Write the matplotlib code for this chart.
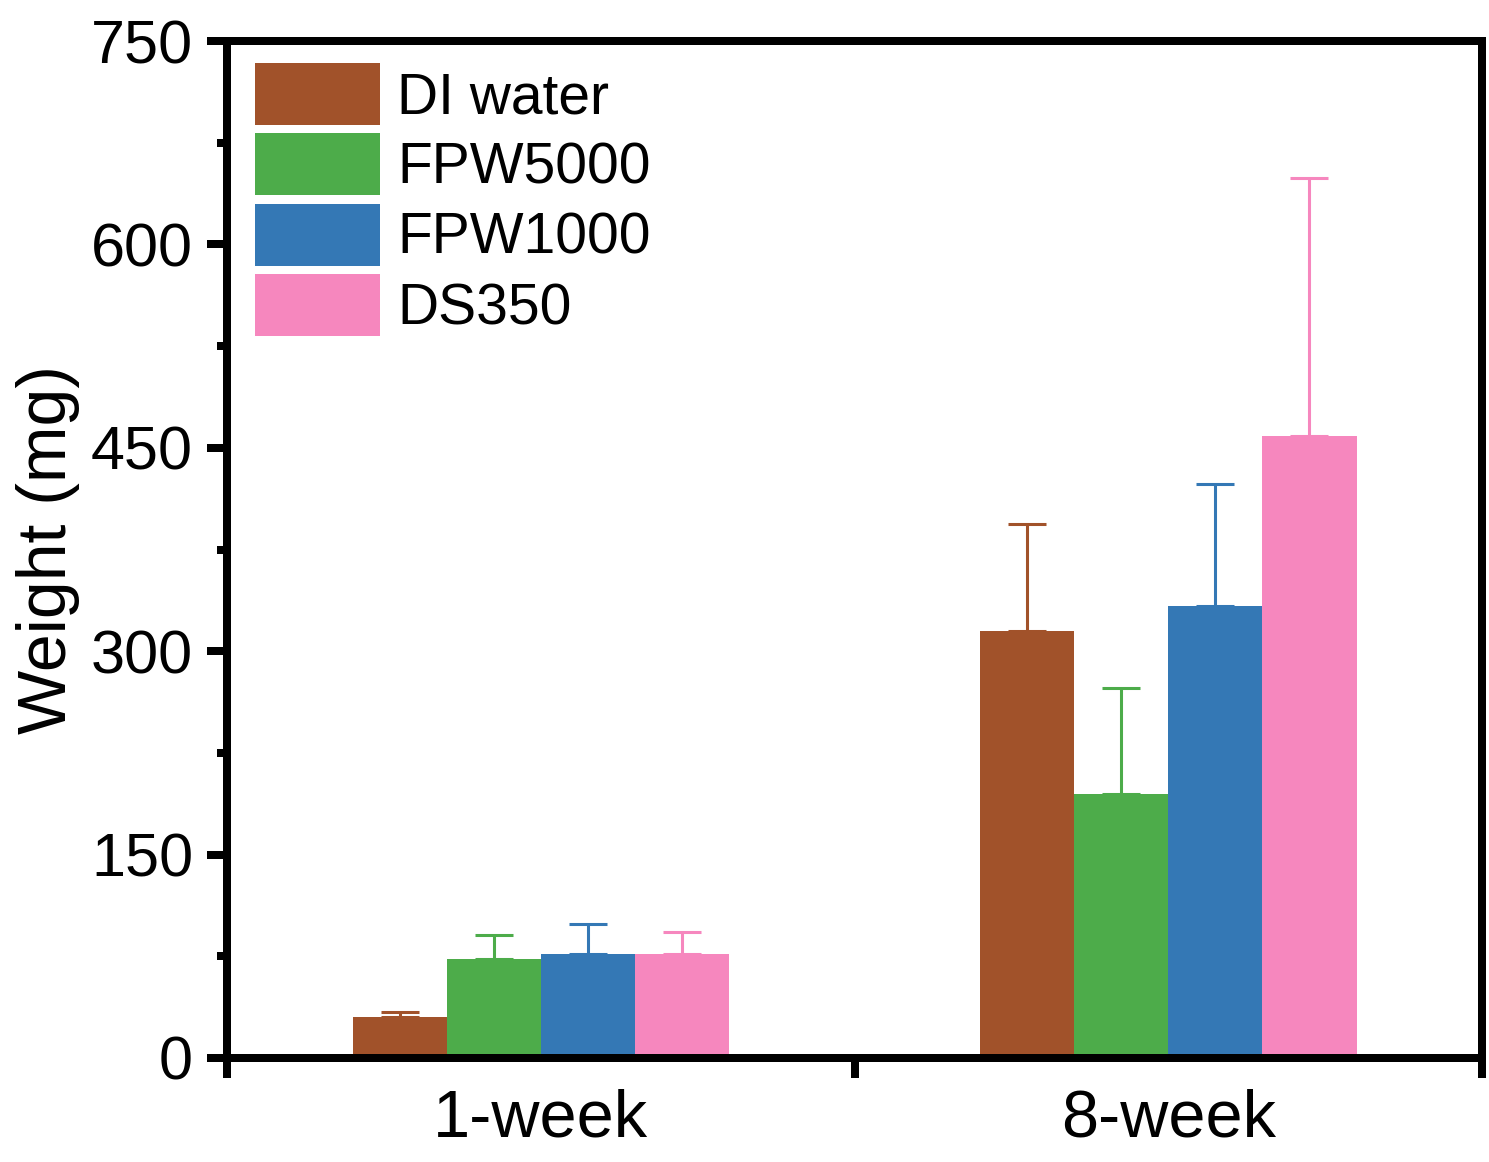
import matplotlib
matplotlib.use("Agg")
import matplotlib.pyplot as plt
import numpy as np

plt.rcParams['font.family'] = ['Liberation Sans', 'DejaVu Sans']

categories = ["1-week", "8-week"]
series = ["DI water", "FPW5000", "FPW1000", "DS350"]
colors = ["#A1522A", "#4DAC4A", "#3478B5", "#F687BE"]
values = {
    "DI water": [30, 315],
    "FPW5000": [73, 195],
    "FPW1000": [77, 333],
    "DS350": [77, 459],
}
errors = {
    "DI water": [3.7, 79],
    "FPW5000": [18, 78],
    "FPW1000": [21.5, 90],
    "DS350": [16, 190],
}
yticks = [0, 150, 300, 450, 600, 750]

dpi = 100
fig = plt.figure(figsize=(14.89, 11.62), dpi=dpi)
ax = fig.add_axes([227/1489, 1-1058/1162, (1482-227)/1489, (1058-41)/1162])

x = np.arange(1, len(categories) + 1)
w = 0.15
for i, (s, c) in enumerate(zip(series, colors)):
    pos = x + (i - 1.5) * w
    v = values[s]
    e = errors[s]
    ax.bar(pos, v, width=w, color=c, label=s,
           yerr=[np.zeros(len(e)), e], capsize=14,
           error_kw=dict(ecolor=c, elinewidth=2.2, capthick=2.2), zorder=2)

ax.set_xlim(0.5, 2.5)
ax.set_ylim(0, 750)

lw = 5.76
for sp in ax.spines.values():
    sp.set_linewidth(lw)

ax.set_yticks(yticks)
ax.set_yticks(np.arange(75, 750, 150), minor=True)
ax.tick_params(axis='y', which='major', direction='out', length=14.4, width=lw,
               labelsize=44, pad=10)
ax.tick_params(axis='y', which='minor', direction='out', length=7.2, width=lw)

ax.set_xticks([0.5, 1.5, 2.5])
ax.set_xticklabels(["", "", ""])
ax.set_xticks(x, minor=True)
ax.set_xticklabels(categories, minor=True)
ax.tick_params(axis='x', which='major', direction='out', length=14.4, width=lw)
ax.tick_params(axis='x', which='minor', length=0, labelsize=48, pad=22)

ax.set_ylabel("Weight (mg)", fontsize=49)
ax.yaxis.set_label_coords(-0.117, 0.5)

leg = ax.legend(loc='upper left', bbox_to_anchor=(28/1255, 1-22/1017),
                frameon=False, fontsize=41, borderpad=0, borderaxespad=0,
                handlelength=2.2, handleheight=1.3, labelspacing=0.145,
                handletextpad=0.3)

fig.savefig("out.png", dpi=dpi)
